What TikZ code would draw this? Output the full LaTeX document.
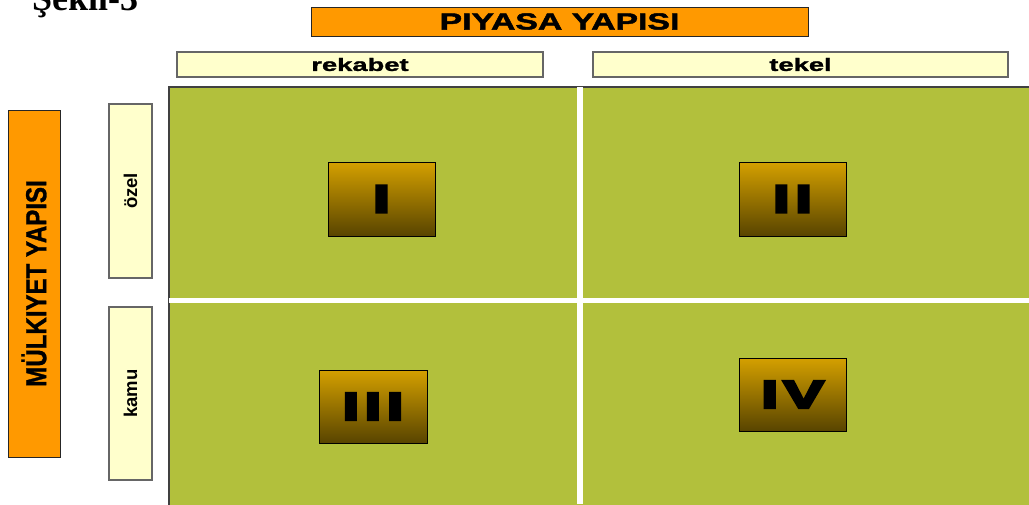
\documentclass[tikz,border=0pt]{standalone}
\usepackage{fontspec}
\setmainfont{Liberation Sans}
\newfontfamily\titlefont{Liberation Serif}
\newfontfamily\headfont[FakeStretch=1.45, FakeBold=2]{Liberation Sans Bold}
\newfontfamily\colfont[FakeStretch=1.52, FakeBold=1.5]{Liberation Sans Bold}
\newfontfamily\sidefont[FakeStretch=0.83, FakeBold=1]{Liberation Sans Bold}
\newfontfamily\rowfont{Liberation Sans Bold}
\newfontfamily\numfont[FakeStretch=1.6, FakeBold=9, LetterSpace=15]{Liberation Sans Bold}
\usepackage{xcolor}
\definecolor{headorange}{RGB}{255,153,0}
\definecolor{paleyellow}{RGB}{255,255,204}
\definecolor{cellgreen}{RGB}{178,192,60}
\definecolor{numtop}{RGB}{212,160,0}
\definecolor{numbottom}{RGB}{88,68,0}
\usetikzlibrary{positioning}

\tikzset{
  headbox/.style={draw=black!85, fill=headorange, line width=0.9pt, inner sep=0pt},
  labelbox/.style={draw=black!60, fill=paleyellow, line width=1.2pt, inner sep=0pt},
  numbox/.style={draw=black, line width=1pt, top color=numtop, bottom color=numbottom,
    inner sep=0pt, minimum width=107, minimum height=74}
}

\begin{document}
\begin{tikzpicture}[x=1pt, y=-1pt]
  \useasboundingbox (0,0) rectangle (1029,504);

  % Title (cut at the top)
  \node[anchor=base west, inner sep=0pt] (title) at (32,10.5)
    {\fontsize{36}{40}\selectfont\titlefont\bfseries Şekil-3};

  % Green field and white cross
  \draw[fill=cellgreen, draw=black!75, line width=1.2pt] (169,87) rectangle (1035,510);
  \draw[white, line width=6pt] (580,87) -- (580,504);
  \draw[white, line width=5pt] (169,300.5) -- (1029,300.5);

  % Column heads
  \node[headbox, minimum width=497, minimum height=29] (piyasa) at (559.5,21.5)
    {\fontsize{23.3}{24}\selectfont\headfont PIYASA YAPISI};
  \node[labelbox, minimum width=366, minimum height=25] (rekabet) at (360,64.5)
    {\fontsize{18}{20}\selectfont\colfont rekabet};
  \node[labelbox, minimum width=415, minimum height=25] (tekel) at (800.5,64.5)
    {\fontsize{18}{20}\selectfont\colfont tekel};

  % Row heads
  \node[headbox, rotate=90, minimum width=347, minimum height=52] (mulkiyet) at (34,283.5)
    {\fontsize{29}{30}\selectfont\sidefont MÜLKIYET YAPISI};
  \node[labelbox, rotate=90, minimum width=174, minimum height=43] (ozel) at (130.5,191)
    {\fontsize{18.5}{20}\selectfont\rowfont özel};
  \node[labelbox, rotate=90, minimum width=173, minimum height=43] (kamu) at (130.5,393.5)
    {\fontsize{18.5}{20}\selectfont\rowfont kamu};

  % Cells
  \node[numbox] (c1) at (381.5,199) {\fontsize{37.4}{38}\selectfont\numfont I};
  \node[numbox] (c2) at (792.5,199) {\fontsize{37.4}{38}\selectfont\numfont II};
  \node[numbox, minimum width=108, minimum height=73] (c3) at (373,406.5) {\fontsize{37.4}{38}\selectfont\numfont III};
  \node[numbox, minimum height=73] (c4) at (792.5,394.5) {\fontsize{37.4}{38}\selectfont\numfont IV};

\end{tikzpicture}
\end{document}
